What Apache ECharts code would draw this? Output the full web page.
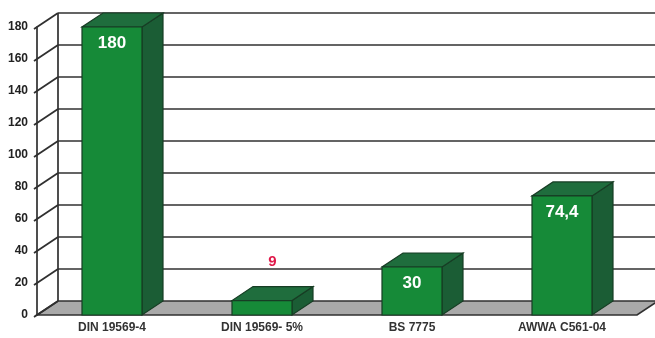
<!DOCTYPE html>
<html>
<head>
<meta charset="utf-8">
<script src="https://cdn.jsdelivr.net/npm/echarts@6/dist/echarts.min.js"></script>
<style>
	html, body { margin: 0; padding: 0; background: #fff; }
	#chart { width: 655px; height: 338px; }
</style>
</head>
<body>
<div id="chart"></div>
<script>
//data
const categories = ['DIN 19569-4', 'DIN 19569- 5%', 'BS 7775', 'AWWA C561-04'];
const values = [180, 9, 30, 74.4];
const valueLabels = ['180', '9', '30', '74,4'];
const yTicks = [0, 20, 40, 60, 80, 100, 120, 140, 160, 180];

//3d look
const DX = 21, DY = -14,
	LINE = '#303030',
	FRONT = '#168a38', TOP = '#1f6d3d', SIDE = '#1b5d35', EDGE = '#173d24',
	FLOOR = '#a9a9a9',
	FONT = 'Liberation Sans, Arial, sans-serif';

var chart = echarts.init(document.getElementById('chart'));

function renderFrame(params, api) {
	var cs = params.coordSys,
		v = api.value(1),
		y = api.coord([0, v])[1],
		x0 = cs.x, x1 = cs.x + cs.width,
		children = [];
	if (v === 0) {
		children.push({
			type: 'polygon',
			shape: { points: [[x0, y], [x1, y], [x1 + DX, y + DY], [x0 + DX, y + DY]] },
			style: { fill: FLOOR, stroke: LINE, lineWidth: 1.7 }
		});
		children.push({
			type: 'line',
			shape: { x1: x0 + DX, y1: y + DY, x2: x0 + DX, y2: cs.y + DY },
			style: { stroke: LINE, lineWidth: 1.7 }
		});
	} else {
		children.push({
			type: 'line',
			shape: { x1: x0 + DX, y1: y + DY, x2: x1 + DX, y2: y + DY },
			style: { stroke: LINE, lineWidth: 1.7 }
		});
	}
	children.push({
		type: 'line',
		shape: { x1: x0 - 3, y1: y + 2, x2: x0 + DX, y2: y + DY },
		style: { stroke: LINE, lineWidth: 1.7 }
	});
	return { type: 'group', children: children };
}

function renderBar(params, api) {
	var i = api.value(0),
		v = api.value(1),
		base = api.coord([i, 0]),
		top = api.coord([i, v]),
		half = api.size([1, 0])[0] * 0.4 / 2,
		l = base[0] - half, r = base[0] + half,
		b = base[1], t = top[1],
		inside = b - t > 30,
		children = [
			{ type: 'polygon', shape: { points: [[r, b], [r, t], [r + DX, t + DY], [r + DX, b + DY]] },
				style: { fill: SIDE, stroke: EDGE, lineWidth: 1.2 } },
			{ type: 'polygon', shape: { points: [[l, t], [r, t], [r + DX, t + DY], [l + DX, t + DY]] },
				style: { fill: TOP, stroke: EDGE, lineWidth: 1.2 } },
			{ type: 'rect', shape: { x: l, y: t, width: r - l, height: b - t },
				style: { fill: FRONT, stroke: EDGE, lineWidth: 1.2 } },
			{ type: 'text', style: {
				text: valueLabels[params.dataIndex],
				x: inside ? base[0] : base[0] + DX / 2,
				y: inside ? t + 16 : t + DY - 25,
				fill: inside ? '#fff' : '#e0194a',
				font: 'bold ' + (inside ? 17 : 15) + 'px ' + FONT,
				align: 'center', verticalAlign: 'middle'
			} }
		];
	return { type: 'group', children: children };
}

chart.setOption({
	animation: false,
	backgroundColor: '#fff',
	grid: { left: 37, right: 18, top: 27, bottom: 23 },
	xAxis: {
		type: 'category', data: categories,
		axisLine: { show: false }, axisTick: { show: false },
		axisLabel: { margin: 7, color: '#333', fontFamily: FONT, fontWeight: 'bold', fontSize: 12 }
	},
	yAxis: {
		type: 'value', min: 0, max: 180, interval: 20,
		splitLine: { show: false },
		axisLine: { show: true, lineStyle: { color: LINE, width: 1.7 } },
		axisTick: { show: false },
		axisLabel: { margin: 9, color: '#222', fontFamily: FONT, fontWeight: 'bold', fontSize: 12 }
	},
	series: [
		{ type: 'custom', z: 1, silent: true, renderItem: renderFrame,
			data: yTicks.map(v => [0, v]) },
		{ type: 'custom', z: 2, renderItem: renderBar,
			data: values.map((v, i) => [i, v]) }
	]
});
</script>
</body>
</html>
